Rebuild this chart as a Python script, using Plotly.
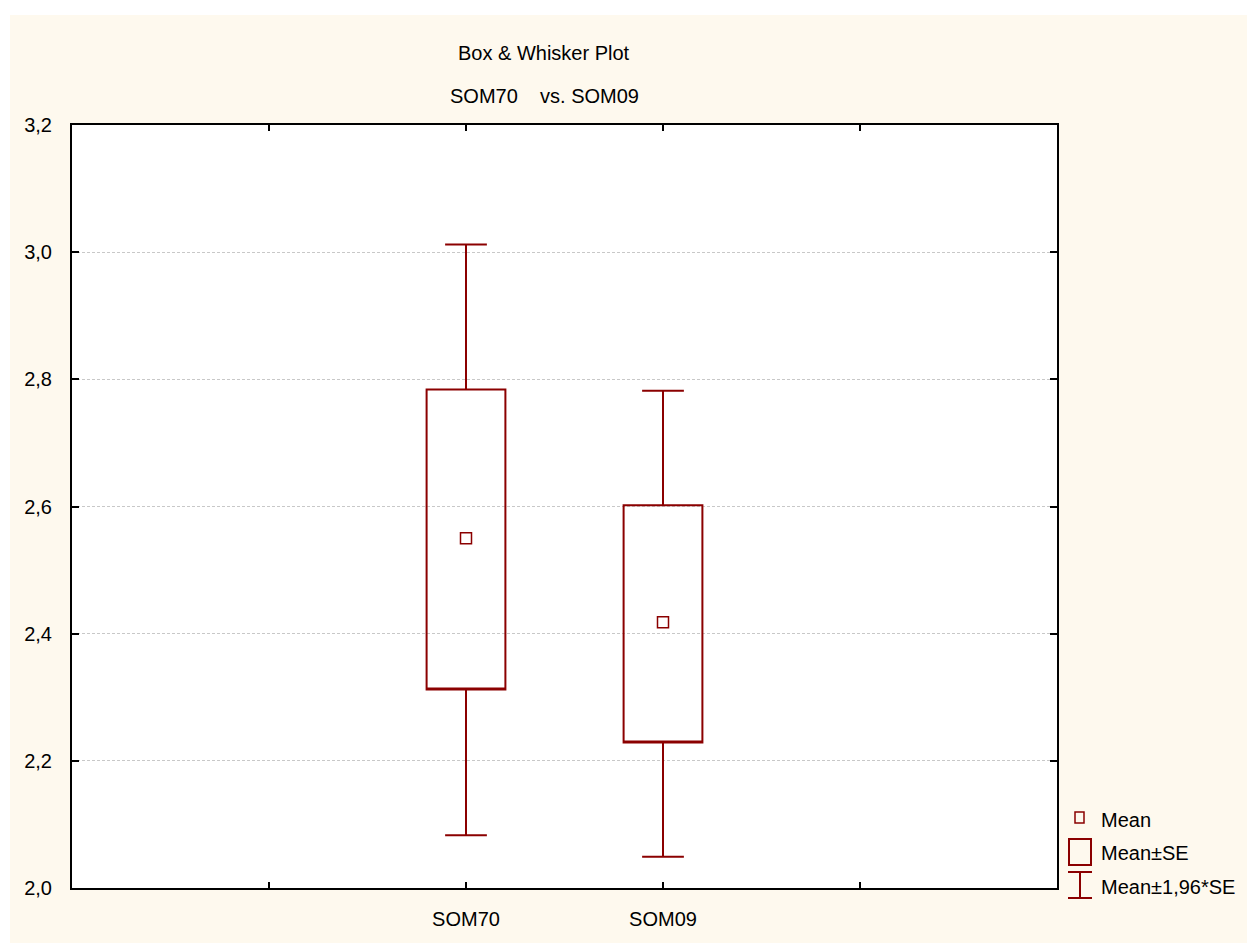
import plotly.graph_objects as go

# ---- data ----
categories = ["SOM70", "SOM09"]
means = [2.550, 2.418]
se_low = [2.312, 2.229]
se_high = [2.784, 2.602]
ci_low = [2.083, 2.049]
ci_high = [3.012, 2.782]
x_positions = [2, 3]
xtick_vals = [1, 2, 3, 4]
xtick_text = ["", "SOM70", "SOM09", ""]
y_ticks = [2.0, 2.2, 2.4, 2.6, 2.8, 3.0, 3.2]

RED = "#8B0000"
CREAM = "#FEF9EE"
FONT = "Liberation Sans, Arial, sans-serif"
FS = 20

W, H = 1247, 943
L, R, T, B = 72, 1057, 125, 888


def px_x(x):
    return (x - L) / (R - L)


def px_y(y):
    return (B - y) / (B - T)


fig = go.Figure()

fig.add_trace(go.Box(
    x=x_positions,
    q1=se_low,
    median=se_low,
    q3=se_high,
    lowerfence=ci_low,
    upperfence=ci_high,
    width=0.4,
    whiskerwidth=0.53,
    boxpoints=False,
    line=dict(color=RED, width=2),
    fillcolor="rgba(0,0,0,0)",
    showlegend=False,
    hoverinfo="skip",
))

fig.add_trace(go.Scatter(
    x=x_positions,
    y=means,
    mode="markers",
    marker=dict(symbol="square-open", size=11, color=RED, line=dict(width=1.5, color=RED)),
    showlegend=False,
    hoverinfo="skip",
))

shapes = [
    dict(type="rect", xref="paper", yref="paper", x0=px_x(0), x1=px_x(W), y0=px_y(0), y1=px_y(15),
         fillcolor="white", line=dict(width=0), layer="below"),
    dict(type="rect", xref="paper", yref="paper", x0=px_x(0), x1=px_x(10), y0=px_y(0), y1=px_y(H),
         fillcolor="white", line=dict(width=0), layer="below"),
    dict(type="rect", xref="paper", yref="paper", x0=px_x(1075), x1=px_x(1084), y0=px_y(812), y1=px_y(823),
         line=dict(color=RED, width=1.5)),
    dict(type="rect", xref="paper", yref="paper", x0=px_x(1069), x1=px_x(1091), y0=px_y(839), y1=px_y(865),
         line=dict(color=RED, width=2)),
    dict(type="line", xref="paper", yref="paper", x0=px_x(1068), x1=px_x(1092), y0=px_y(872), y1=px_y(872),
         line=dict(color=RED, width=2)),
    dict(type="line", xref="paper", yref="paper", x0=px_x(1068), x1=px_x(1092), y0=px_y(898), y1=px_y(898),
         line=dict(color=RED, width=2)),
    dict(type="line", xref="paper", yref="paper", x0=px_x(1080), x1=px_x(1080), y0=px_y(872), y1=px_y(898),
         line=dict(color=RED, width=2)),
]


def ann(text, x, y, anchor):
    return dict(text=text, xref="paper", yref="paper", x=px_x(x), y=px_y(y),
                xanchor=anchor, yanchor="middle", showarrow=False,
                font=dict(family=FONT, size=FS, color="black"))


annotations = [
    ann("Box & Whisker Plot", 544, 53, "center"),
    ann("SOM70\u00a0\u00a0\u00a0\u00a0vs. SOM09", 544, 96, "center"),
    ann("Mean", 1099, 820, "left"),
    ann("Mean±SE", 1099, 853, "left"),
    ann("Mean±1,96*SE", 1099, 887, "left"),
]

fig.update_layout(
    width=W, height=H,
    margin=dict(l=L, r=W - R, t=T, b=H - B, pad=0),
    paper_bgcolor=CREAM,
    plot_bgcolor="white",
    separators=", ",
    font=dict(family=FONT, size=FS, color="black"),
    showlegend=False,
    shapes=shapes,
    annotations=annotations,
    xaxis=dict(
        range=[0, 5], tickmode="array", tickvals=xtick_vals, ticktext=xtick_text,
        showgrid=False, zeroline=False, showline=True, linecolor="black", linewidth=2,
        mirror="ticks", ticks="inside", ticklen=6, tickcolor="black", tickwidth=1.5,
        ticklabelstandoff=12,
    ),
    yaxis=dict(
        range=[2.0, 3.2], tickmode="array", tickvals=y_ticks,
        tickformat=".1f",
        showgrid=True, gridcolor="#c8c8c8", gridwidth=1, griddash="3px,2px",
        zeroline=False, showline=True, linecolor="black", linewidth=2,
        mirror="ticks", ticks="inside", ticklen=7, tickcolor="black", tickwidth=1.5,
        ticklabelstandoff=14,
    ),
)

fig.write_html("out.html", config={"displayModeBar": False},
               post_script="document.body.style.margin='0';document.body.style.overflow='hidden';")
